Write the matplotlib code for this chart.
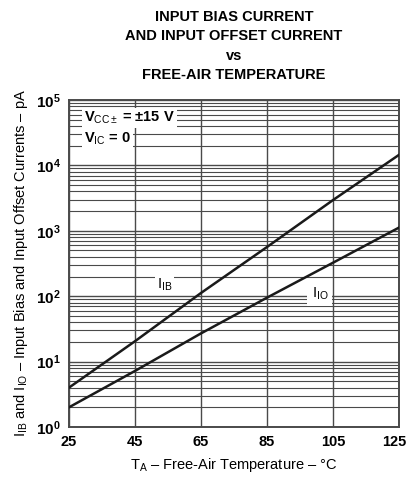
import numpy as np
import matplotlib
matplotlib.use("Agg")
import matplotlib.pyplot as plt
import matplotlib.transforms as mtransforms
from matplotlib.ticker import FixedLocator, LogLocator, NullFormatter

plt.rcParams["font.family"] = ["Liberation Sans", "DejaVu Sans"]
plt.rcParams["mathtext.fontset"] = "custom"
plt.rcParams["mathtext.rm"] = "Liberation Sans"
plt.rcParams["mathtext.bf"] = "Liberation Sans:bold"
plt.rcParams["mathtext.it"] = "Liberation Sans"

# ---------- data ----------
temp = [25, 45, 65, 85, 105, 125]
i_ib = [4.0, 20.5, 112, 565, 2950, 14500]   # pA
i_io = [2.0, 7.2, 27, 95, 325, 1120]        # pA
x_ticks = [25, 45, 65, 85, 105, 125]
y_decades = [0, 1, 2, 3, 4, 5]

GRID = "#4a4a4a"

fig = plt.figure(figsize=(4.07, 4.79), dpi=100)
ax = fig.add_axes([69/407, 52/479, 330/407, 327/479])

ax.plot(temp, i_ib, color="#1a1a1a", lw=1.8, zorder=3)
ax.plot(temp, i_io, color="#1a1a1a", lw=1.8, zorder=3)

ax.set_yscale("log")
ax.set_xlim(25, 125)
ax.set_ylim(1, 1e5)

ax.xaxis.set_major_locator(FixedLocator(x_ticks))
ax.set_xticklabels([str(t) for t in x_ticks], fontweight="bold", fontsize=10.5)
ax.yaxis.set_major_locator(FixedLocator([10.0**d for d in y_decades]))
ax.set_yticklabels([r"$\mathbf{10^{%d}}$" % d for d in y_decades], fontsize=11)
ax.yaxis.set_minor_locator(LogLocator(base=10, subs=np.arange(2, 10)))
ax.yaxis.set_minor_formatter(NullFormatter())
ax.tick_params(axis="both", which="both", length=0, pad=6)

# keep the last x label inside the figure
last = ax.get_xticklabels()[-1]
last.set_transform(last.get_transform() +
                   mtransforms.ScaledTranslation(-5/100, 0, fig.dpi_scale_trans))

ax.grid(True, which="major", axis="both", color=GRID, lw=1.0)
ax.grid(True, which="minor", axis="y", color=GRID, lw=0.8)
for s in ax.spines.values():
    s.set_color(GRID)
    s.set_linewidth(1.4)

bbox = dict(facecolor="white", edgecolor="none", pad=1.5)
ax.text(0.045, 0.945, r"V$_{\mathrm{CC\pm}}$ = ±15 V", transform=ax.transAxes,
        fontsize=10.5, fontweight="bold", va="center", ha="left", bbox=bbox, zorder=4)
ax.text(0.045, 0.88, r"V$_{\mathrm{IC}}$ = 0", transform=ax.transAxes,
        fontsize=10.5, fontweight="bold", va="center", ha="left", bbox=bbox, zorder=4)
ax.text(54, 150, r"I$_{\mathrm{IB}}$", fontsize=10.5, ha="center", va="center",
        bbox=bbox, zorder=4)
ax.text(101, 110, r"I$_{\mathrm{IO}}$", fontsize=10.5, ha="center", va="center",
        bbox=dict(facecolor="white", edgecolor="none", pad=3), zorder=4)

ax.set_xlabel(r"T$_{\mathrm{A}}$ – Free-Air Temperature – °C", fontsize=10.5, labelpad=5)
ax.set_ylabel(r"I$_{\mathrm{IB}}$ and I$_{\mathrm{IO}}$ – Input Bias and Input Offset Currents – pA",
              fontsize=10.5, labelpad=4)

fig.text(234/407, 1 - 46/479,
         "INPUT BIAS CURRENT\nAND INPUT OFFSET CURRENT\nvs\nFREE-AIR TEMPERATURE",
         ha="center", va="center", fontsize=10.5, fontweight="bold", linespacing=1.5)

fig.savefig("out.png", dpi=100)
